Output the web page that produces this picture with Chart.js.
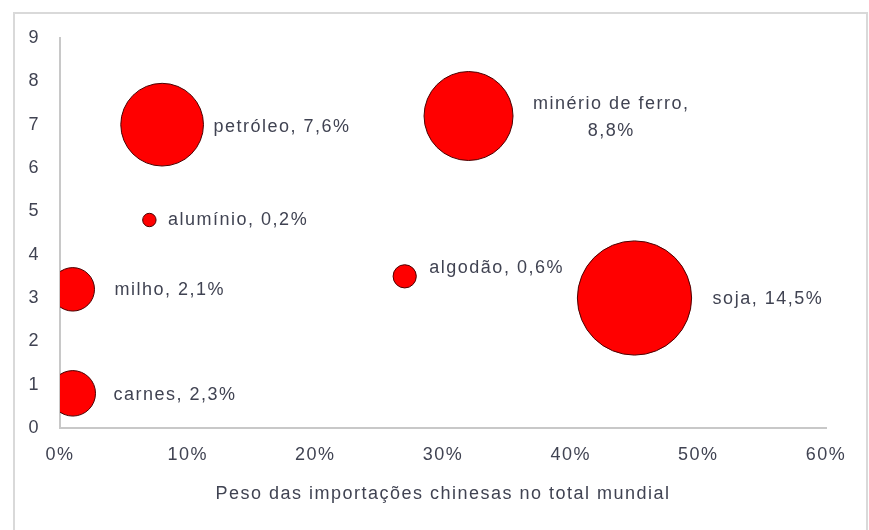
<!DOCTYPE html>
<html>
<head>
<meta charset="utf-8">
<script src="https://cdn.jsdelivr.net/npm/chart.js@4/dist/chart.umd.min.js"></script>
<style>
  html, body { margin: 0; padding: 0; background: #fff; overflow: hidden; }
  #wrap { position: relative; width: 869px; height: 530px; }
  #frame { position: absolute; left: 13px; top: 12px; width: 851px; height: 530px; border: 2px solid #d9d9d9; }
  canvas { position: absolute; left: 0; top: 0; }
</style>
</head>
<body>
<div id="wrap">
  <div id="frame"></div>
  <canvas id="bubbleChart" width="869" height="530"></canvas>
</div>
<script>
// produtos e valores
const products = ['carnes', 'milho', 'alumínio', 'petróleo', 'algodão', 'minério de ferro', 'soja'];
const importWeight = [1, 1, 7, 8, 27, 32, 45];          // eixo x, %
const yPosition = [0.8, 3.2, 4.8, 7.0, 3.5, 7.2, 3.0];  // eixo y
const shares = [2.3, 2.1, 0.2, 7.6, 0.6, 8.8, 14.5];    // tamanho da bolha, %
const xTicks = [0, 10, 20, 30, 40, 50, 60];

// deslocamento dos rótulos (px) e quebra de linha
const labelShift = [[18, 2], [20, 1], [12, 0], [10, 2], [13, -8], [20, 2], [21, 1]];
const wrapLabel = ['minério de ferro'];

const textColor = '#404352';
const fontFamily = '"Liberation Sans", Arial, sans-serif';
const spacing = '1.5px';

function fmt(v) {
    return String(v).replace('.', ',') + '%';
}

// espaçamento entre letras como no original
const letterSpacing = {
    id: 'letterSpacing',
    beforeUpdate(chart) { chart.ctx.letterSpacing = spacing; },
    beforeDraw(chart) { chart.ctx.letterSpacing = spacing; }
};

const bubbleLabels = {
    id: 'bubbleLabels',
    afterDatasetsDraw(chart) {
        const ctx = chart.ctx;
        const meta = chart.getDatasetMeta(0);
        ctx.save();
        ctx.letterSpacing = spacing;
        ctx.font = '18px ' + fontFamily;
        ctx.fillStyle = textColor;
        ctx.textBaseline = 'middle';
        meta.data.forEach((pt, i) => {
            const r = pt.options.radius;
            const dx = labelShift[i][0], dy = labelShift[i][1];
            const x = pt.x + r + dx;
            const y = pt.y + dy;
            if (wrapLabel.includes(products[i])) {
                const l1 = products[i] + ',';
                const l2 = fmt(shares[i]);
                const w = ctx.measureText(l1).width;
                ctx.textAlign = 'center';
                ctx.fillText(l1, x + w / 2, y - 13.5);
                ctx.fillText(l2, x + w / 2, y + 13.5);
            } else {
                ctx.textAlign = 'left';
                ctx.fillText(products[i] + ', ' + fmt(shares[i]), x, y);
            }
        });
        ctx.restore();
    }
};

const ctx = document.getElementById('bubbleChart').getContext('2d');
const myChart = new Chart(ctx, {
    type: 'bubble',
    data: {
        datasets: [{
            label: 'Importações chinesas',
            data: products.map((p, i) => ({ x: importWeight[i], y: yPosition[i], r: 15 * Math.sqrt(shares[i]) })),
            backgroundColor: '#ff0000',
            borderColor: '#4a0000',
            borderWidth: 1,
            clip: 0
        }]
    },
    options: {
        responsive: false,
        animation: false,
        events: [],
        layout: { autoPadding: false, padding: { top: 38, right: 43, left: 0, bottom: 0 } },
        plugins: {
            legend: { display: false },
            tooltip: { enabled: false }
        },
        scales: {
            x: {
                type: 'linear',
                min: 0,
                max: 60,
                afterFit: (s) => { s.height = 102; },
                afterBuildTicks: (s) => { s.ticks = xTicks.map(v => ({ value: v })); },
                grid: { display: false, drawTicks: false },
                border: { display: true, color: '#c8c8c8', width: 2 },
                ticks: {
                    padding: 16,
                    color: textColor,
                    font: { family: fontFamily, size: 18 },
                    callback: (v) => v + '%'
                },
                title: {
                    display: true,
                    text: 'Peso das importações chinesas no total mundial',
                    color: textColor,
                    font: { family: fontFamily, size: 18 },
                    padding: { top: 0, bottom: 25 }
                }
            },
            y: {
                min: 0,
                max: 9,
                afterFit: (s) => { s.width = 60; },
                grid: { display: false, drawTicks: false },
                border: { display: true, color: '#c8c8c8', width: 2 },
                ticks: {
                    stepSize: 1,
                    padding: 20,
                    color: textColor,
                    font: { family: fontFamily, size: 18 }
                }
            }
        }
    },
    plugins: [letterSpacing, bubbleLabels]
});
</script>
</body>
</html>
